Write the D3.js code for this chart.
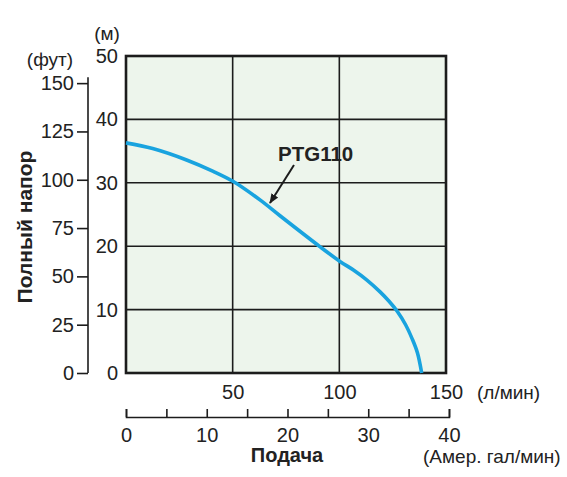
<!DOCTYPE html>
<html>
<head>
<meta charset="utf-8">
<script src="https://cdn.jsdelivr.net/npm/d3@7"></script>
<style>
  body { margin: 0; background: #fff; }
  svg text { font-family: "Liberation Sans", Arial, sans-serif; fill: #222; }
</style>
</head>
<body>
<div id="chart"></div>
<script>
// PTG110 curve
const flow = [0, 12.5, 28.4, 40.9, 50.3, 62.8, 72.2, 91, 100.3, 106.6, 112.8, 119.1, 123.2, 127.2, 131.0, 134.2, 136.6, 138.6];
const head = [36.3, 35.4, 33.6, 31.8, 30.2, 27.3, 24.8, 19.9, 17.6, 16.25, 14.7, 12.8, 11.35, 9.7, 7.65, 5.35, 3.2, 0];

const meterTicks = [0, 10, 20, 30, 40, 50];
const feetTicks = [0, 25, 50, 75, 100, 125, 150];
const lpmTicks = [50, 100, 150];
const gallonTicks = [0, 5, 10, 15, 20, 25, 30, 35, 40];

const width = 567, height = 477;

const svg = d3.select("#chart")
  .append("svg")
    .attr("width", width)
    .attr("height", height);

const x = d3.scaleLinear().domain([0, 150]).range([126, 446]);
const y = d3.scaleLinear().domain([0, 50]).range([373, 56]);
// secondary scales - real unit conversions
const yFt = d3.scaleLinear().domain([0, 150]).range([y(0), y(150 * 0.3048)]);
const xGal = d3.scaleLinear().domain([0, 40]).range([x(0), x(40 * 3.785)]);

// plot background
svg.append("rect")
  .attr("x", x(0)).attr("y", y(50))
  .attr("width", x(150) - x(0)).attr("height", y(0) - y(50))
  .attr("fill", "#edf5ec");

// grid
svg.append("g")
  .selectAll("line")
  .data([10, 20, 30, 40])
  .enter().append("line")
    .attr("x1", x(0)).attr("x2", x(150))
    .attr("y1", d => y(d)).attr("y2", d => y(d))
    .attr("stroke", "#1c1c1c").attr("stroke-width", 1.6);

svg.append("g")
  .selectAll("line")
  .data([50, 100])
  .enter().append("line")
    .attr("x1", d => x(d)).attr("x2", d => x(d))
    .attr("y1", y(0)).attr("y2", y(50))
    .attr("stroke", "#1c1c1c").attr("stroke-width", 1.6);

// frame
svg.append("rect")
  .attr("x", x(0)).attr("y", y(50))
  .attr("width", x(150) - x(0)).attr("height", y(0) - y(50))
  .attr("fill", "none")
  .attr("stroke", "#1c1c1c").attr("stroke-width", 2.6);

// curve
const line = d3.line()
  .x((d, i) => x(flow[i]))
  .y(d => y(d))
  .curve(d3.curveCatmullRom.alpha(0.5));

svg.append("path")
  .datum(head)
  .attr("d", line)
  .attr("fill", "none")
  .attr("stroke", "#19a3df")
  .attr("stroke-width", 3.6)
  .attr("stroke-linecap", "butt");

// label + arrow
svg.append("defs").append("marker")
  .attr("id", "arr")
  .attr("viewBox", "0 0 10 10")
  .attr("refX", 9).attr("refY", 5)
  .attr("markerWidth", 5).attr("markerHeight", 5)
  .attr("orient", "auto")
  .append("path")
    .attr("d", "M0,1 L10,5 L0,9 Z")
    .attr("fill", "#1c1c1c");

svg.append("line")
  .attr("x1", 294).attr("y1", 165)
  .attr("x2", 270).attr("y2", 203)
  .attr("stroke", "#1c1c1c").attr("stroke-width", 2)
  .attr("marker-end", "url(#arr)");

svg.append("text")
  .attr("x", 278).attr("y", 161)
  .style("font-size", "20.5px").style("font-weight", "bold")
  .text("PTG110");

// meter axis (labels only)
const mAxis = svg.append("g")
  .attr("transform", "translate(" + x(0) + ",0)")
  .call(d3.axisLeft(y).tickValues(meterTicks).tickSize(0).tickPadding(8));
mAxis.select(".domain").remove();
mAxis.selectAll("text").style("font-size", "20px").attr("fill", "#222");

// feet axis
const ftAxis = svg.append("g")
  .attr("transform", "translate(88,0)")
  .call(d3.axisLeft(yFt).tickValues(feetTicks).tickSize(11).tickSizeOuter(0).tickPadding(3));
ftAxis.select(".domain").remove();
ftAxis.selectAll("line").attr("stroke", "#1c1c1c").attr("stroke-width", 1.6);
ftAxis.selectAll("text").style("font-size", "20px").attr("fill", "#222");
ftAxis.append("line")
  .attr("x1", 0).attr("x2", 0)
  .attr("y1", yFt(0)).attr("y2", yFt(150) - 6)
  .attr("stroke", "#1c1c1c").attr("stroke-width", 1.6);

// l/min labels under the plot
const lAxis = svg.append("g")
  .attr("transform", "translate(0," + y(0) + ")")
  .call(d3.axisBottom(x).tickValues(lpmTicks).tickSize(0).tickPadding(12));
lAxis.select(".domain").remove();
lAxis.selectAll("text").style("font-size", "20px").attr("fill", "#222");

// gallon axis
const gAxis = svg.append("g")
  .attr("transform", "translate(0,417)")
  .call(d3.axisBottom(xGal)
    .tickValues(gallonTicks)
    .tickSize(-8).tickSizeOuter(-8).tickPadding(11)
    .tickFormat(d => d % 10 === 0 ? d : ""));
gAxis.select(".domain").attr("stroke", "#1c1c1c").attr("stroke-width", 1.6);
gAxis.selectAll("line").attr("stroke", "#1c1c1c").attr("stroke-width", 1.6);
gAxis.selectAll("text").style("font-size", "20px").attr("fill", "#222");

// unit labels
svg.append("text").attr("x", 107).attr("y", 33).attr("dy", "0.35em")
  .attr("text-anchor", "middle").style("font-size", "19px").text("(м)");
svg.append("text").attr("x", 50).attr("y", 59).attr("dy", "0.35em")
  .attr("text-anchor", "middle").style("font-size", "19px").text("(фут)");
svg.append("text").attr("x", 477).attr("y", 392).attr("dy", "0.35em")
  .style("font-size", "19px").text("(л/мин)");
svg.append("text").attr("x", 423).attr("y", 456).attr("dy", "0.35em")
  .style("font-size", "19px").text("(Амер. гал/мин)");

// axis titles
svg.append("text").attr("x", 287).attr("y", 455).attr("dy", "0.35em")
  .attr("text-anchor", "middle")
  .style("font-size", "20px").style("font-weight", "bold")
  .text("Подача");

svg.append("text")
  .attr("transform", "translate(25,227) rotate(-90)")
  .attr("dy", "0.35em")
  .attr("text-anchor", "middle")
  .style("font-size", "21px").style("font-weight", "bold")
  .text("Полный напор");
</script>
</body>
</html>
